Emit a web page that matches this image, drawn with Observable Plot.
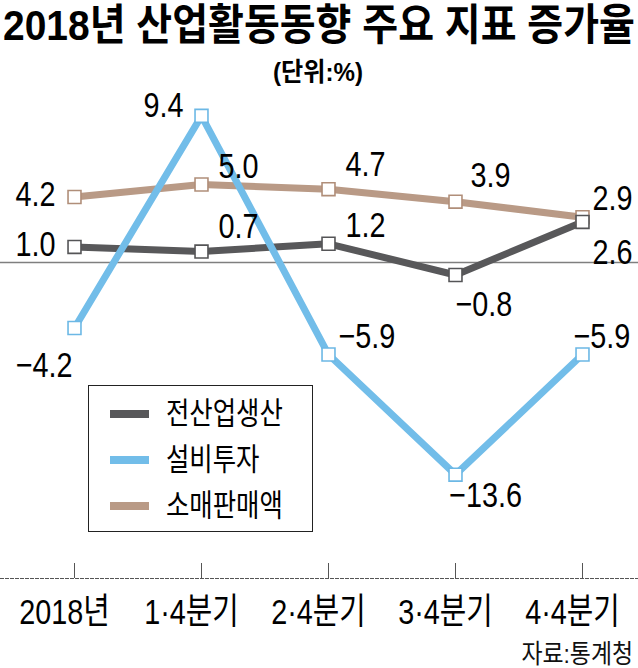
<!DOCTYPE html>
<html>
<head>
<meta charset="utf-8">
<script src="https://cdn.jsdelivr.net/npm/d3@7"></script>
<script src="https://cdn.jsdelivr.net/npm/@observablehq/plot@0.6"></script>
<style>
  html, body { margin: 0; padding: 0; background: #fff; }
  #wrap { position: relative; width: 638px; height: 668px; overflow: hidden;
          font-family: "Liberation Sans", "Noto Sans CJK KR", sans-serif; color: #000; }
  #title { position: absolute; left: 3px; top: 0px; font-weight: bold; white-space: nowrap; transform-origin: 0 0; }
  #subtitle { position: absolute; top: 57px; font-weight: bold; white-space: nowrap; transform-origin: 0 0; }
  #chart { position: absolute; left: 0; top: 90px; }
  #legend { position: absolute; left: 88px; top: 385px; width: 225px; height: 147px;
            border: 1.5px solid #222; background: #fff; box-sizing: border-box; }
  #legend .row { position: absolute; left: 0; width: 100%; height: 0; }
  #legend .sw { position: absolute; left: 21px; top: -4px; width: 39px; height: 8px; }
  #legend .lt { position: absolute; left: 77px; white-space: nowrap; transform-origin: 0 50%; }
  #source { position: absolute; right: 5px; top: 641px; white-space: nowrap; transform-origin: 100% 0; color: #111; }
</style>
</head>
<body>
<div id="wrap">
  <div id="title"></div>
  <div id="subtitle"></div>
  <div id="chart"></div>
  <div id="legend"></div>
  <div id="source"></div>
</div>
<script>
// ---- data ----
const categories = ["2018년", "1·4분기", "2·4분기", "3·4분기", "4·4분기"];
const seriesNames = ["전산업생산", "설비투자", "소매판매액"];
const production = [1.0, 0.7, 1.2, -0.8, 2.6];
const investment = [-4.2, 9.4, -5.9, -13.6, -5.9];
const retail = [4.2, 5.0, 4.7, 3.9, 2.9];
const titleText = "2018년 산업활동동향 주요 지표 증가율";
const subtitleText = "(단위:%)";
const sourceText = "자료:통계청";

// ---- styling / layout (not data) ----
const seriesValues = [production, investment, retail];
const styles = {
  "전산업생산": {line: "#58585a", marker: "#555557"},
  "설비투자": {line: "#72bde9", marker: "#6cb8e5"},
  "소매판매액": {line: "#b99a86", marker: "#b08e79"}
};
// value-label offsets in pixels: [dx, dy, textAnchor]
const labelLayout = {
  "전산업생산": [[-19, -2, "end"], [17, -25, "start"], [17, -18, "start"], [0, 29, "start"], [10, 31, "start"]],
  "설비투자": [[-2, 37, "end"], [-18, -10, "end"], [10, -18, "start"], [30, 21, "middle"], [-9, -18, "start"]],
  "소매판매액": [[-19, -3, "end"], [17, -18, "start"], [17, -25, "start"], [15, -26, "start"], [10, -19, "start"]]
};
const FONT = '"Liberation Sans", "Noto Sans CJK KR", sans-serif';
const NARROW = 0.8;           // horizontal condensing of the newspaper typeface
const LABEL_SIZE = 36 * NARROW;

const rows = seriesNames.flatMap((name, s) =>
  seriesValues[s].map((value, i) => ({series: name, cat: categories[i], value, i})));
const bySeries = name => rows.filter(r => r.series === name);
const fmt = v => v.toFixed(1).replace("-", "\u2212");
const drawOrder = ["소매판매액", "전산업생산", "설비투자"];

const svg = Plot.plot({
  width: 638,
  height: 545,
  marginLeft: 0, marginRight: 0, marginTop: 0, marginBottom: 57,
  style: {fontFamily: FONT, background: "transparent", overflow: "visible"},
  x: {type: "point", domain: categories, range: [74, 582], padding: 0, label: null},
  y: {domain: [-10, 10], range: [328, 16], axis: null},
  marks: [
    Plot.ruleY([0], {stroke: "#7f7f7f", strokeWidth: 1.5}),
    Plot.frame({anchor: "bottom", stroke: "#555", strokeWidth: 1, strokeDasharray: "3,2"}),
    Plot.axisX({tickSize: -15, stroke: "#555", fill: "none", label: null}),
    Plot.axisX({tickSize: 0, tickPadding: 20, stroke: "none", fill: "#000", fontSize: LABEL_SIZE, dx: -10, label: null}),
    ...drawOrder.map(name => Plot.line(bySeries(name), {
      x: "cat", y: "value", stroke: styles[name].line, strokeWidth: 7
    })),
    ...drawOrder.map(name => Plot.dot(bySeries(name), {
      x: "cat", y: "value", symbol: "square", r: 7.3, fill: "#fff",
      stroke: styles[name].marker, strokeWidth: 1.6
    })),
    ...rows.map(r => {
      const [dx, dy, anchor] = labelLayout[r.series][r.i];
      return Plot.text([r], {
        x: "cat", y: "value", text: d => fmt(d.value), dx, dy,
        textAnchor: anchor, fontSize: LABEL_SIZE, fill: "#000"
      });
    })
  ]
});
document.getElementById("chart").append(svg);

// stretch svg text vertically (narrow, tall typeface look)
svg.querySelectorAll("text").forEach(t => {
  let tr = t.getAttribute("transform");
  if (!tr || !tr.includes("translate")) {
    const x = +t.getAttribute("x") || 0, y = +t.getAttribute("y") || 0;
    t.setAttribute("x", 0); t.setAttribute("y", 0);
    tr = `translate(${x},${y})` + (tr ? " " + tr : "");
  }
  t.setAttribute("transform", tr + ` scale(1,${1 / NARROW})`);
});

// helper: fit an html text box to a target width by shrinking the font and stretching vertically
function narrowBox(el, text, size, lineH, targetWidth) {
  el.textContent = text;
  el.style.fontSize = size + "px";
  el.style.lineHeight = lineH + "px";
  const w = el.getBoundingClientRect().width;
  const s = targetWidth / w;
  el.style.fontSize = (size * s) + "px";
  el.style.lineHeight = (lineH * s) + "px";
  el.style.transform = `scaleY(${1 / s})`;
  return s;
}

// title
const title = document.getElementById("title");
narrowBox(title, titleText, 43, 50, 632);

// subtitle centered at x=318
const sub = document.getElementById("subtitle");
narrowBox(sub, subtitleText, 26, 30, 90);
sub.style.left = (318 - 45) + "px";

// legend
const legend = document.getElementById("legend");
const rowTops = [28, 74, 120];
const LEG = 0.82;
seriesNames.forEach((name, k) => {
  const row = document.createElement("div");
  row.className = "row";
  row.style.top = rowTops[k] + "px";
  const sw2 = document.createElement("span");
  sw2.className = "sw";
  sw2.style.background = styles[name].line;
  const lt = document.createElement("span");
  lt.className = "lt";
  lt.textContent = name;
  lt.style.fontSize = (31 * LEG) + "px";
  lt.style.lineHeight = (36 * LEG) + "px";
  lt.style.height = (36 * LEG) + "px";
  lt.style.top = (-18 * LEG) + "px";
  lt.style.transform = `scaleY(${1 / LEG})`;
  row.append(sw2, lt);
  legend.append(row);
});

// source
const src = document.getElementById("source");
const SRC = 0.88;
src.textContent = sourceText;
src.style.fontSize = (26 * SRC) + "px";
src.style.lineHeight = (26 * SRC) + "px";
src.style.transform = `scaleY(${1 / SRC})`;
</script>
</body>
</html>
